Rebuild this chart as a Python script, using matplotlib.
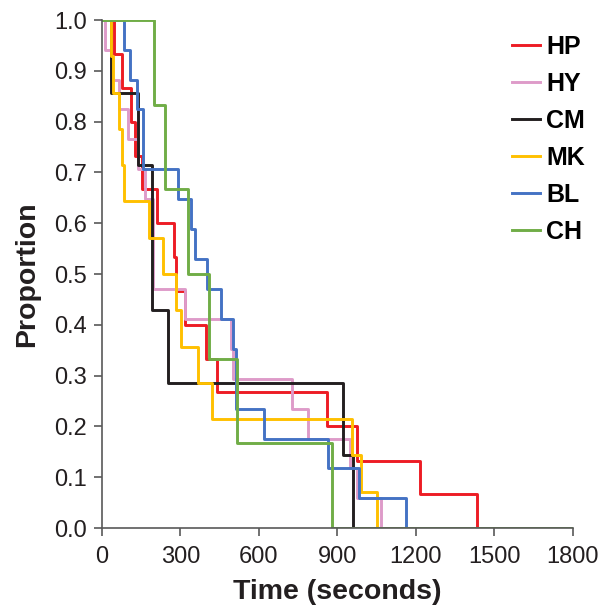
import matplotlib
import matplotlib.pyplot as plt

matplotlib.use('Agg')

plt.rcParams['font.family'] = ['Liberation Sans', 'DejaVu Sans']

# Event times (seconds) and survival proportion after each event
hp_t = [0, 46, 76, 112, 127, 152, 209, 276, 285, 317, 397, 438, 860, 975, 1215, 1432, 1800]
hp_p = [1.0, 0.933, 0.867, 0.800, 0.733, 0.667, 0.600, 0.533, 0.467, 0.400, 0.333, 0.267, 0.200, 0.133, 0.067, 0.0, 0.0]

hy_t = [0, 10, 36, 64, 99, 137, 164, 196, 317, 493, 502, 725, 788, 948, 975, 1066, 1800]
hy_p = [1.0, 0.941, 0.882, 0.824, 0.765, 0.706, 0.647, 0.471, 0.412, 0.353, 0.294, 0.235, 0.176, 0.118, 0.059, 0.0, 0.0]

cm_t = [0, 33, 137, 190, 251, 921, 960, 1800]
cm_p = [1.0, 0.857, 0.714, 0.429, 0.286, 0.143, 0.0, 0.0]

mk_t = [0, 34, 43, 66, 75, 84, 181, 232, 283, 302, 368, 420, 954, 989, 1050, 1800]
mk_p = [1.0, 0.929, 0.857, 0.786, 0.714, 0.643, 0.571, 0.500, 0.429, 0.357, 0.286, 0.214, 0.143, 0.071, 0.0, 0.0]

bl_t = [0, 84, 106, 135, 157, 289, 340, 355, 400, 455, 500, 512, 619, 864, 982, 1162, 1800]
bl_p = [1.0, 0.941, 0.882, 0.824, 0.706, 0.647, 0.588, 0.529, 0.471, 0.412, 0.353, 0.235, 0.176, 0.118, 0.059, 0.0, 0.0]

ch_t = [0, 199, 241, 329, 409, 518, 879, 1800]
ch_p = [1.0, 0.833, 0.667, 0.500, 0.333, 0.167, 0.0, 0.0]

series = [
    ('HP', hp_t, hp_p, '#ED1C24'),
    ('HY', hy_t, hy_p, '#DE9BC9'),
    ('CM', cm_t, cm_p, '#231F20'),
    ('MK', mk_t, mk_p, '#FFC000'),
    ('BL', bl_t, bl_p, '#4472C4'),
    ('CH', ch_t, ch_p, '#70AD47'),
]

fig = plt.figure(figsize=(6.03, 6.07), dpi=100)
ax = fig.add_axes([0.169, 0.130, 0.781, 0.837])

for name, t, p, color in series:
    ax.step(t, p, where='post', color=color, lw=2.1, label=name)

ax.set_xlim(0, 1800)
ax.set_ylim(0, 1.0)
ax.set_xticks(range(0, 1801, 300))
ax.set_yticks([i / 10 for i in range(11)])
ax.yaxis.set_major_formatter(matplotlib.ticker.FormatStrFormatter('%.1f'))

for side in ['top', 'right']:
    ax.spines[side].set_visible(False)
for side in ['left', 'bottom']:
    ax.spines[side].set_color('#595959')
    ax.spines[side].set_linewidth(1.2)
ax.tick_params(direction='out', length=6, width=1.2, color='#595959',
               labelsize=17, labelcolor='#231F20')
ax.tick_params(axis='x', pad=7)
ax.tick_params(axis='y', pad=5)

ax.set_xlabel('Time (seconds)', fontsize=20.5, fontweight='bold', color='#231F20', labelpad=8)
ax.set_ylabel('Proportion', fontsize=20.5, fontweight='bold', color='#231F20', labelpad=10)

ax.legend(loc='upper right', bbox_to_anchor=(1.047, 0.99), borderaxespad=0, frameon=False,
          prop={'weight': 'bold', 'size': 18}, handlelength=1.1,
          handletextpad=0.25, labelspacing=0.52)

fig.savefig('out.png', dpi=100)
